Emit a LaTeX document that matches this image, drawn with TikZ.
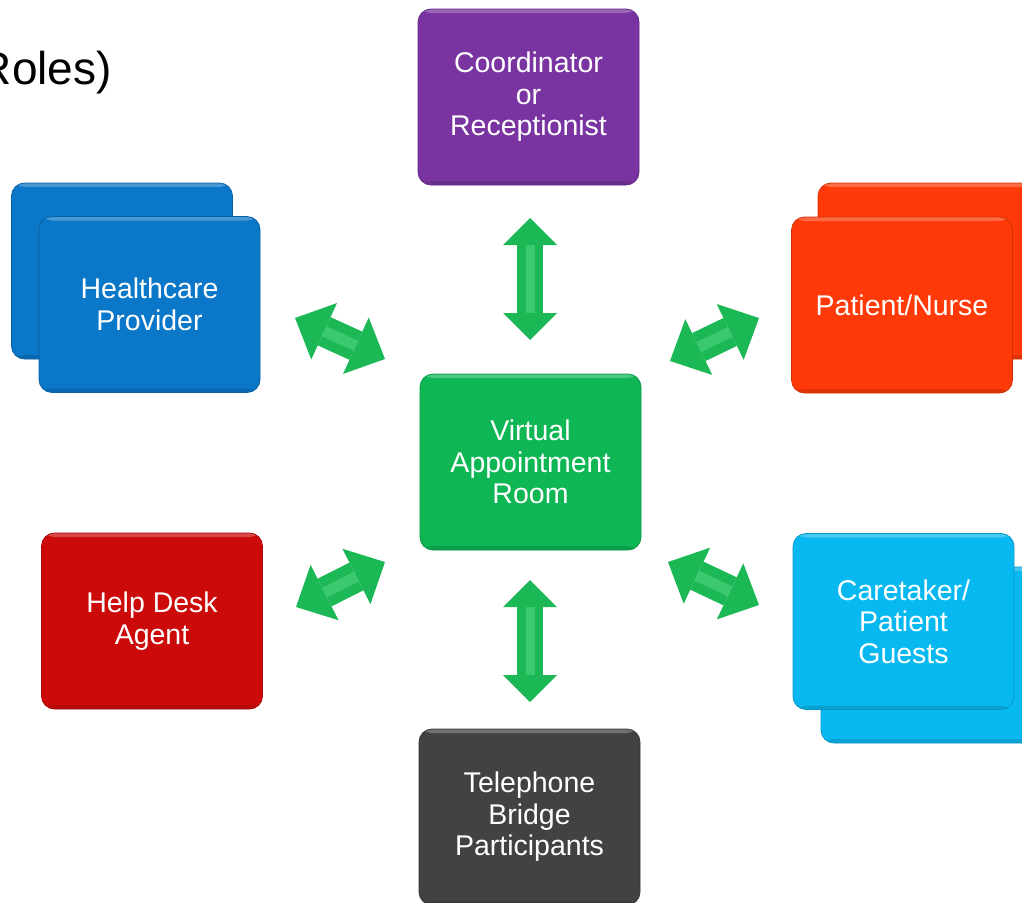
\documentclass[tikz,border=0pt]{standalone}
\usepackage{fontspec}
\setmainfont{Liberation Sans}
\usetikzlibrary{arrows.meta}
\definecolor{cpurple}{RGB}{122,52,162}
\definecolor{cblue}{RGB}{10,119,200}
\definecolor{corange}{RGB}{255,58,8}
\definecolor{cred}{RGB}{204,10,10}
\definecolor{ccyan}{RGB}{8,184,240}
\definecolor{cgray}{RGB}{66,66,66}
\definecolor{cgreen}{RGB}{14,182,84}
\definecolor{agreen}{RGB}{28,184,86}
\definecolor{alight}{RGB}{110,226,150}
\begin{document}
\begin{tikzpicture}[x=1pt,y=-1pt,
  box/.style={rounded corners=13pt, minimum width=221pt, minimum height=176pt,
    inner sep=0pt, align=center, text=white,
    font=\fontsize{28.5}{31.5}\selectfont,
    fill=#1, draw=#1!82!black, line width=0.8pt,
    path picture={
      \fill[white,opacity=.25] (path picture bounding box.north west)
        rectangle ([yshift=-4pt]path picture bounding box.north east);
      \fill[black,opacity=.12] ([yshift=4pt]path picture bounding box.south west)
        rectangle (path picture bounding box.south east);}},
  varrow/.style={draw=agreen, line width=26pt,
    {Triangle[length=27pt,width=54pt,line width=0pt]}-{Triangle[length=27pt,width=54pt,line width=0pt]}},
  darrow/.style={draw=agreen, line width=31pt,
    {Triangle[length=32pt,width=62pt,line width=0pt]}-{Triangle[length=32pt,width=62pt,line width=0pt]}},
  vhl/.style={draw=alight, opacity=.4, line width=9pt, shorten <=27pt, shorten >=27pt},
  dhl/.style={draw=alight, opacity=.4, line width=11pt, shorten <=32pt, shorten >=32pt},
]
\useasboundingbox (0,0) rectangle (1022,902);

% title fragment
\node[anchor=base east, font=\fontsize{46}{50}\selectfont, inner sep=0pt] (title) at (112,84) {Roles)};

% back boxes
\node[box=cblue] (hcback) at (122,271) {};
\node[box=corange] (pnback) at (928.5,271) {};
\node[box=ccyan] (ctback) at (931.5,655) {};

% main boxes
\node[box=cpurple] (coord) at (528.5,97) {Coordinator\\or\\Receptionist};
\node[box=cblue] (hc) at (149.5,304.5) {Healthcare\\Provider};
\node[box=corange] (pn) at (902,305) {Patient/Nurse};
\node[box=cgreen] (virt) at (530.5,462) {Virtual\\Appointment\\Room};
\node[box=cred] (help) at (152,621) {Help Desk\\Agent};
\node[box=ccyan] (ct) at (903.5,621.5) {Caretaker/\\Patient\\Guests};
\node[box=cgray] (tel) at (529.5,817) {Telephone\\Bridge\\Participants};

% arrow end points
\coordinate (t1) at (530,218);
\coordinate (t2) at (530,340);
\coordinate (b1) at (530,580);
\coordinate (b2) at (530,702);
\coordinate (ul1) at (295,318);
\coordinate (ul2) at (385,359);
\coordinate (ur1) at (670,361);
\coordinate (ur2) at (759,318);
\coordinate (ll1) at (296,607);
\coordinate (ll2) at (385,562);
\coordinate (lr1) at (668,562);
\coordinate (lr2) at (759,605);

\draw[varrow] (t1) -- (t2);
\draw[vhl] (t1) -- (t2);
\draw[varrow] (b1) -- (b2);
\draw[vhl] (b1) -- (b2);
\draw[darrow] (ul1) -- (ul2);
\draw[dhl] (ul1) -- (ul2);
\draw[darrow] (ur1) -- (ur2);
\draw[dhl] (ur1) -- (ur2);
\draw[darrow] (ll1) -- (ll2);
\draw[dhl] (ll1) -- (ll2);
\draw[darrow] (lr1) -- (lr2);
\draw[dhl] (lr1) -- (lr2);
\end{tikzpicture}
\end{document}
